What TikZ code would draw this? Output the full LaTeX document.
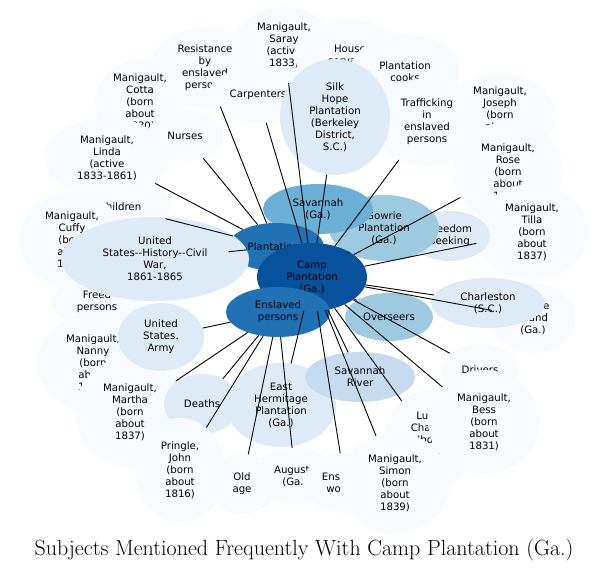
\documentclass[tikz,border=0pt]{standalone}
\usepackage{fontspec}
\newfontfamily\nodefont{DejaVu Sans}
\usetikzlibrary{shapes.geometric}
\definecolor{c0}{HTML}{F7FBFF}
\definecolor{c1}{HTML}{DEEBF7}
\definecolor{c2}{HTML}{C6DBEF}
\definecolor{c3}{HTML}{9ECAE1}
\definecolor{c4}{HTML}{6BAED6}
\definecolor{c5}{HTML}{2171B5}
\definecolor{c6}{HTML}{08519C}
\tikzset{
  bub/.style={ellipse, inner sep=0pt, align=center, font=\nodefont\fontsize{10.2}{12}\selectfont, text=black},
  link/.style={draw=black, line width=0.9pt}
}
\newcommand{\B}[7]{\node[bub, fill=#6, minimum width=#4*2pt, minimum height=#5*2pt] (#1) at (#2pt,571pt-#3pt) {#7};}
\begin{document}
\begin{tikzpicture}[x=1pt,y=1pt]
\useasboundingbox (0,0) rectangle (608,571);
% outer pale nodes
\B{saray}{284}{45}{50}{38}{c0}{Manigault,\\Saray\\(active\\1833)}
\B{house}{350}{55}{55}{35}{c0}{House\\servants}
\B{cooks}{405}{72}{55}{38}{c0}{Plantation\\cooks}
\B{resist}{205}{68}{55}{40}{c0}{Resistance\\by\\enslaved\\persons}
\B{carp}{258}{95}{50}{28}{c0}{Carpenters}
\B{cotta}{140}{102}{45}{42}{c0}{Manigault,\\Cotta\\(born\\about\\1830)}
\B{nurses}{185}{136}{38}{25}{c0}{Nurses}
\B{linda}{107}{158}{62}{40}{c0}{Manigault,\\Linda\\(active\\1833-1861)}
\B{child}{120}{207}{50}{28}{c0}{Children}
\B{cuffy}{72}{240}{52}{48}{c0}{Manigault,\\Cuffy\\(born\\about\\1825)}
\B{freed}{97}{302}{45}{25}{c0}{Freed\\persons}
\B{nanny}{93}{363}{55}{50}{c0}{Manigault,\\Nanny\\(born\\about\\1829)}
\B{martha}{130}{412}{55}{55}{c0}{Manigault,\\Martha\\(born\\about\\1837)}
\B{deaths}{202}{404}{38}{30}{c1}{Deaths}
\B{pringle}{180}{470}{45}{52}{c0}{Pringle,\\John\\(born\\about\\1816)}
\B{old}{242}{484}{35}{30}{c0}{Old\\age}
\B{aug}{295}{476}{45}{28}{c0}{Augusta\\(Ga.)}
\B{ensw}{345}{483}{42}{30}{c0}{Enslaved\\women}
\B{luke}{430}{440}{45}{50}{c0}{Luke,\\Charles\\(born\\about\\1830)}
\B{simon}{395}{483}{55}{50}{c0}{Manigault,\\Simon\\(born\\about\\1839)}
\B{drivers}{480}{370}{38}{27}{c0}{Drivers}
\B{bess}{484}{422}{56}{52}{c0}{Manigault,\\Bess\\(born\\about\\1831)}
\B{argyle}{533}{318}{42}{35}{c0}{Argyle\\Island\\(Ga.)}
\B{joseph}{500}{115}{55}{42}{c0}{Manigault,\\Joseph\\(born\\about\\1830)}
\B{rose}{508}{172}{55}{50}{c0}{Manigault,\\Rose\\(born\\about\\1835)}
\B{tilla}{532}{232}{57}{48}{c0}{Manigault,\\Tilla\\(born\\about\\1837)}
\B{freedom}{450}{236}{40}{25}{c1}{Freedom\\seeking}
\B{traff}{427}{122}{55}{44}{c0}{Trafficking\\in\\enslaved\\persons}
\B{silk}{335}{117}{55}{58}{c1}{Silk\\Hope\\Plantation\\(Berkeley\\District,\\S.C.)}
% inner nodes
\B{gowrie}{384}{228}{55}{33}{c3}{Gowrie\\Plantation\\(Ga.)}
\B{savga}{318}{209}{55}{25}{c4}{Savannah\\(Ga.)}
\B{plant}{276}{247}{48}{24}{c5}{Plantations}
\B{camp}{312}{277}{55}{34}{c6}{Camp\\Plantation\\(Ga.)}
\B{civil}{155}{259}{94}{42}{c1}{United\\States--History--Civil\\War,\\1861-1865}
\B{army}{161}{337}{43}{34}{c1}{United\\States.\\Army}
\B{ens}{278}{312}{52}{25}{c5}{Enslaved\\persons}
\B{charl}{488}{303}{57}{25}{c1}{Charleston\\(S.C.)}
\B{over}{389}{317}{44}{24}{c3}{Overseers}
\B{east}{281}{405}{55}{42}{c1}{East\\Hermitage\\Plantation\\(Ga.)}
\B{savr}{360}{377}{55}{25}{c2}{Savannah\\River}
% connectors
\foreach \t in {saray,carp,silk,traff,gowrie,rose,tilla,charl,argyle,over,drivers,bess,luke,simon,savr,ensw,east}
  \draw[link] (camp) -- (\t);
\foreach \t in {resist,nurses,linda,child,civil}
  \draw[link] (plant) -- (\t);
\foreach \t in {army,martha,deaths,pringle,old,aug}
  \draw[link] (ens) -- (\t);
\node[font=\fontsize{22}{26}\selectfont] (title) at (304pt,21pt) {Subjects Mentioned Frequently With Camp Plantation (Ga.)};
\end{tikzpicture}
\end{document}
